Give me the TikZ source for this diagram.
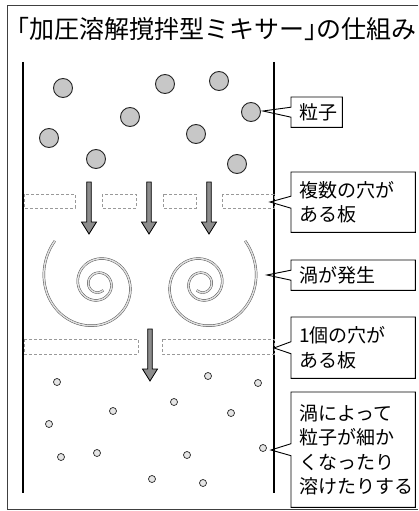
\documentclass[tikz,border=0pt]{standalone}
\usepackage{fontspec}
\setmainfont{Noto Sans CJK JP}
\usetikzlibrary{calc}
\begin{document}
\begin{tikzpicture}[x=1pt,y=-1pt,
  frameline/.style={line width=0.8pt, black!75},
  wall/.style={line width=1.2pt, black},
  grain/.style={circle, draw=black!85, line width=0.9pt, fill=black!22, minimum size=19pt, inner sep=0pt},
  speck/.style={circle, draw=black!85, line width=0.7pt, fill=black!10, minimum size=7pt, inner sep=0pt},
  plate/.style={draw=black!40, line width=0.5pt, dash pattern=on 3pt off 2pt},
  swirl/.style={draw=black!70, line width=0.45pt, double=black!12, double distance=1.5pt},
  labelbox/.style={anchor=north west, inner xsep=8pt, inner ysep=0pt, align=left,
                   text width=108pt, minimum width=124pt,
                   font=\fontsize{19}{24.5}\selectfont},
  callout/.style={draw=black, line width=0.9pt, line join=miter},
  flowarrow/.pic={\draw[black, line width=0.8pt, fill=black!45]
      (-2.3,0) -- (2.3,0) -- (2.3,40) -- (7.5,40) -- (0,52) -- (-7.5,40) -- (-2.3,40) -- cycle;}
]
\useasboundingbox (0,0) rectangle (418,511);
\fill[white] (0,0) rectangle (418,511);

% outer frame (open on the right)
\draw[frameline] (418,5) -- (7,5) -- (7,509) -- (418,509);

% heading
\node[anchor=base west, inner sep=0pt, font=\fontsize{25}{30}\selectfont] (title) at (4,39)
  {「加圧溶解撹拌型ミキサー」\kern-0.5em の仕組み};

% vessel walls
\draw[wall] (23,62) -- (23,493);
\draw[wall] (274,62) -- (274,493);

% coarse particles
\node[grain] (g1) at (63,88) {};
\node[grain] (g2) at (165,84) {};
\node[grain] (g3) at (219,81) {};
\node[grain] (g4) at (130,117) {};
\node[grain] (g5) at (251,112) {};
\node[grain] (g6) at (49,138) {};
\node[grain] (g7) at (196,134) {};
\node[grain] (g8) at (96,159) {};
\node[grain] (g9) at (237,164) {};

% plate with several holes
\draw[plate] (24,194) rectangle (75,208);
\draw[plate] (102,194) rectangle (136,208);
\draw[plate] (163,194) rectangle (196,208);
\draw[plate] (222,194) rectangle (274,208);

% flow through the holes
\pic at (89,182) {flowarrow};
\pic at (149,182) {flowarrow};
\pic at (209,182) {flowarrow};

% vortices
\draw[swirl] plot[domain=135:1030, samples=260, variable=\t]
  ({98+(5+56*exp(-(\t-135)/308))*cos(\t)}, {284-(5+56*exp(-(\t-135)/308))*sin(\t)});
\draw[swirl] plot[domain=135:1030, samples=260, variable=\t]
  ({202-(5+56*exp(-(\t-135)/308))*cos(\t)}, {284-(5+56*exp(-(\t-135)/308))*sin(\t)});

% plate with a single hole
\draw[plate] (24,339) rectangle (138,354);
\draw[plate] (162,339) rectangle (274,354);
\pic at (150,329) {flowarrow};

% fine particles
\node[speck] (s1) at (57,382) {};
\node[speck] (s2) at (208,376) {};
\node[speck] (s3) at (258,383) {};
\node[speck] (s4) at (174,402) {};
\node[speck] (s5) at (113,411) {};
\node[speck] (s6) at (231,413) {};
\node[speck] (s7) at (49,424) {};
\node[speck] (s8) at (263,448) {};
\node[speck] (s9) at (61,457) {};
\node[speck] (s10) at (97,453) {};
\node[speck] (s11) at (187,455) {};
\node[speck] (s12) at (152,479) {};
\node[speck] (s13) at (203,483) {};

% label boxes
\node[labelbox, text width=35pt, minimum width=51pt, minimum height=30pt] (b1) at (291,97) {粒子};
\node[labelbox, minimum height=60pt] (b2) at (291,172) {複数の穴が\\ある板};
\node[labelbox, minimum height=30pt] (b3) at (291,260) {渦が発生};
\node[labelbox, minimum height=61pt] (b4) at (291,317) {1個の穴が\\ある板};
\node[labelbox, minimum height=115pt] (b5) at (291,392) {渦によって\\粒子が細か\\くなったり\\溶けたりする};

% pointer tips
\coordinate (t1) at (263,111);
\coordinate (t2) at (270,202);
\coordinate (t3) at (267,275);
\coordinate (t4) at (274,348);
\coordinate (t5) at (271,450);

% callout outlines with wedge pointers
\draw[callout] (t1) -- ($(b1.west)+(0,-5)$) |- (b1.north east) |- (b1.south west) -- ($(b1.west)+(0,5)$) -- cycle;
\draw[callout] (t2) -- ($(b2.west)+(0,-6)$) |- (b2.north east) |- (b2.south west) -- ($(b2.west)+(0,6)$) -- cycle;
\draw[callout] (t3) -- ($(b3.west)+(0,-5)$) |- (b3.north east) |- (b3.south west) -- ($(b3.west)+(0,5)$) -- cycle;
\draw[callout] (t4) -- ($(b4.west)+(0,-6)$) |- (b4.north east) |- (b4.south west) -- ($(b4.west)+(0,6)$) -- cycle;
\draw[callout] (t5) -- ($(b5.west)+(0,-6)$) |- (b5.north east) |- (b5.south west) -- ($(b5.west)+(0,6)$) -- cycle;
\end{tikzpicture}
\end{document}
